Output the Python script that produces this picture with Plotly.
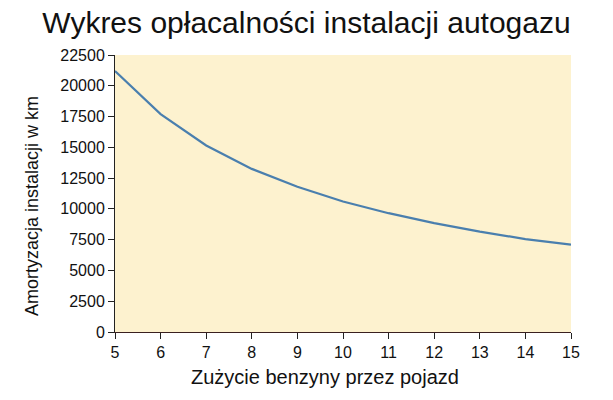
import plotly.graph_objects as go

# dane
zuzycie = [5, 6, 7, 8, 9, 10, 11, 12, 13, 14, 15]
amortyzacja = [21200, 17700, 15150, 13250, 11800, 10600, 9650, 8850, 8150, 7550, 7100]

fig = go.Figure()

fig.add_trace(
    go.Scatter(
        x=zuzycie,
        y=amortyzacja,
        mode="lines",
        line=dict(color="#4a7fae", width=2.2),
        showlegend=False,
    )
)

# podpisy osi jako adnotacje (lekko przesunięte jak w oryginale)
fig.add_annotation(
    text="Zużycie benzyny przez pojazd",
    xref="paper", yref="paper",
    x=0.46, y=-0.162,
    xanchor="center", yanchor="middle",
    showarrow=False,
    font=dict(size=20, color="#111111"),
)
fig.add_annotation(
    text="Amortyzacja instalacji w km",
    xref="paper", yref="paper",
    x=-0.182, y=0.455,
    xanchor="center", yanchor="middle",
    textangle=-90,
    showarrow=False,
    font=dict(size=18, color="#111111"),
)

# strona html ma domyślny margines 8 px z każdej strony,
# więc figura jest mniejsza, żeby zmieścić się w oknie 613x400
fig.update_layout(
    width=597,
    height=384,
    margin=dict(l=107, r=34, t=47, b=60),
    paper_bgcolor="white",
    plot_bgcolor="#fdf2cf",
    font=dict(family="Liberation Sans, Arial, sans-serif", color="#111111"),
    title=dict(
        text="Wykres opłacalności instalacji autogazu",
        font=dict(size=30, color="#111111"),
        x=0.5,
        xanchor="center",
        y=0.99,
        yanchor="top",
        pad=dict(t=0),
    ),
    xaxis=dict(
        range=[5, 15],
        tickmode="linear",
        tick0=5,
        dtick=1,
        showgrid=False,
        zeroline=False,
        showline=True,
        linecolor="#3a2020",
        linewidth=1,
        ticks="outside",
        ticklen=6,
        tickcolor="#222222",
        tickfont=dict(size=16),
    ),
    yaxis=dict(
        range=[0, 22500],
        tickmode="linear",
        tick0=0,
        dtick=2500,
        tickformat="d",
        showgrid=False,
        zeroline=False,
        showline=True,
        linecolor="#222222",
        linewidth=1,
        ticks="outside",
        ticklen=6,
        tickcolor="#222222",
        tickfont=dict(size=16),
    ),
)

fig.write_html("out.html")
